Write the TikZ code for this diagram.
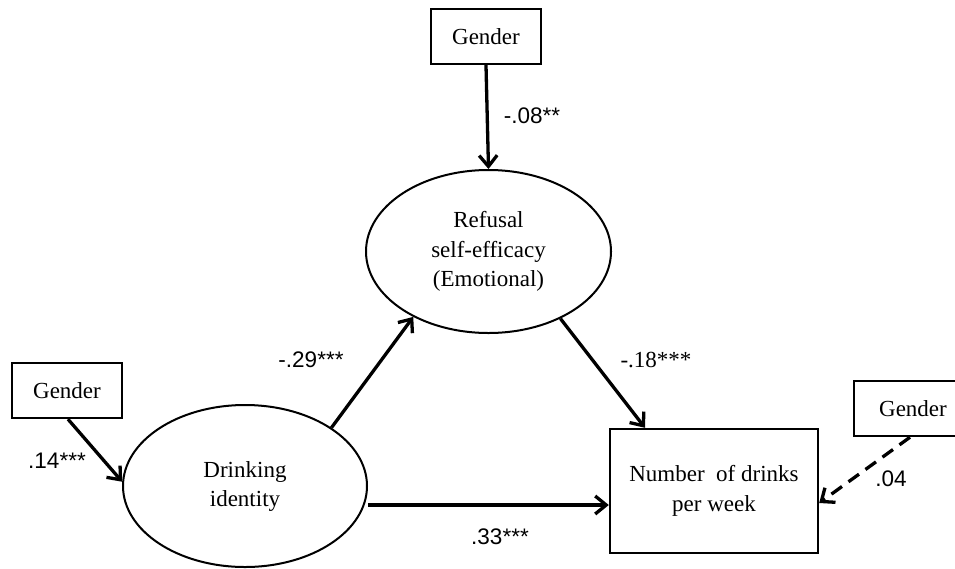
\documentclass[tikz,border=0pt]{standalone}
\usepackage{fontspec}
\setmainfont{Liberation Serif}
\newfontfamily\labfont{Liberation Sans}
\usetikzlibrary{arrows.meta,shapes.geometric}
\begin{document}
\begin{tikzpicture}[x=1pt,y=-1pt,
  every node/.style={font=\fontsize{23}{29.5}\selectfont},
  boxnode/.style={draw,line width=2.4pt,rectangle,inner sep=0pt,align=center},
  ellnode/.style={draw,line width=2pt,ellipse,inner sep=0pt,align=center},
  path/.style={line width=3.3pt,-{Straight Barb[length=11pt,width=18pt]}},
  dpath/.style={path,dash pattern=on 13pt off 8pt},
  coef/.style={font=\labfont\fontsize{22.5}{26}\selectfont,inner sep=0pt},
  coefserif/.style={font=\fontsize{23}{26}\selectfont,inner sep=0pt}]
\useasboundingbox (0,0) rectangle (955,568);
\clip (0,0) rectangle (955,568);
% nodes
\node[boxnode,minimum width=110pt,minimum height=55pt] (gtop) at (486,36.5) {Gender};
\node[boxnode,minimum width=110pt,minimum height=55pt] (gleft) at (67,390.5) {Gender};
\node[boxnode,minimum width=118pt,minimum height=55pt] (gright) at (913,408.5) {Gender};
\node[ellnode,minimum width=245pt,minimum height=163pt] (refuse) at (488.5,251.5) {\raisebox{-3pt}{\begin{tabular}{@{}c@{}}Refusal\\self-efficacy\\(Emotional)\end{tabular}}};
\node[ellnode,minimum width=244pt,minimum height=162pt] (drink) at (245,486) {\raisebox{-6pt}{\begin{tabular}{@{}c@{}}Drinking\\identity\end{tabular}}};
\node[boxnode,minimum width=208pt,minimum height=124pt] (drinks) at (714,491) {Number\ \ of drinks\\per week};
% connectors
\draw[path] (gtop.south) -- (refuse.north);
\draw[path] (gleft.south) ++(1,0) coordinate (gl) (gl) -- (drink.178);
\draw[path] (drink.34) -- (refuse.221);
\draw[path] (refuse.317) -- (drinks.north west -| 645,0) coordinate (nt);
\draw[path] (drink.east |- 0,505) coordinate (de) -- (drinks.west |- 0,505);
\draw[dpath] (gright.south -| 910,0) coordinate (gs) -- (drinks.east |- 0,503);
% labels
\node[coef] (l1) at (532,116) {-.08**};
\node[coef] (l2) at (311,360) {-.29***};
\node[coefserif] (l3) at (656,360) {-.18***};
\node[coef] (l4) at (57,461) {.14***};
\node[coef] (l5) at (500,537) {.33***};
\node[coef] (l6) at (891,479) {.04};
\end{tikzpicture}
\end{document}
